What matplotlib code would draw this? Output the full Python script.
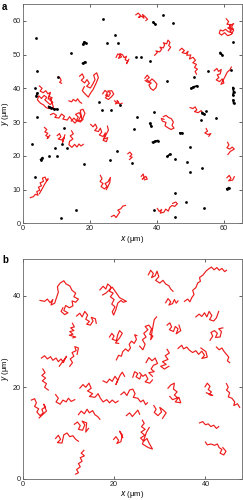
import matplotlib
matplotlib.use("Agg")
import matplotlib.pyplot as plt

# ---------------- data ----------------
# Panel a: red trajectories (x, y in um)
traj_a = [
    [(33.8,61.8),(34.5,62.3),(35.2,61.6),(34.6,61.0),(35.5,61.4),(36.2,60.8),(35.8,61.9),(36.6,61.2),(37.3,60.5),(36.8,60.1)],
    [(60.8,60.6),(61.5,59.8),(61.0,59.0),(62.2,58.9),(61.6,58.0),(62.8,57.6),(61.9,57.0),(62.6,56.4),(61.4,56.8),(60.6,57.5),(59.8,57.0),(59.0,57.3),(58.7,56.3),(59.4,55.8),(60.3,56.5),(61.2,55.6),(62.3,56.0),(63.0,57.2),(62.4,58.3),(63.0,59.2),(61.8,58.6),(62.1,57.4),(61.3,57.9)],
    [(39.4,49.8),(40.2,50.6),(39.8,51.1),(40.9,50.8),(41.5,51.6),(41.0,52.2),(42.0,52.0),(42.4,52.9),(42.0,53.5),(43.0,53.2),(43.4,54.3),(44.0,53.6),(43.6,52.7),(44.2,52.2),(43.5,51.2)],
    [(46.9,51.3),(47.5,51.9),(48.3,51.2),(47.6,50.6),(48.7,50.3),(49.4,51.0),(49.0,49.8),(50.2,49.9),(49.8,48.7),(50.9,49.2),(51.6,48.3),(50.8,47.6),(51.9,47.1),(51.3,46.2),(52.2,45.7),(51.5,45.0),(51.9,44.2)],
    [(57.2,45.2),(58.0,45.9),(58.5,45.0),(59.3,45.6),(59.0,44.3),(58.1,44.0),(58.6,43.2),(57.8,42.5),(58.8,42.0),(59.6,42.8),(60.1,41.6),(59.2,41.2),(60.5,43.6),(61.1,44.8),(61.9,45.5),(62.3,46.3)],
    [(27.9,49.2),(28.4,50.2),(29.1,49.8),(28.6,48.9),(29.5,49.3),(29.0,50.3),(29.8,50.0),(30.3,49.1),(31.0,49.5),(30.6,48.5),(31.4,48.0),(31.0,47.3),(31.7,48.6)],
    [(36.5,43.0),(37.2,43.9),(37.8,43.2),(37.0,42.5),(37.9,42.0),(38.6,42.8),(39.3,42.2),(40.1,41.3),(39.8,40.2),(39.0,39.4),(38.2,40.0),(37.7,41.0),(38.4,41.6),(37.4,41.8),(36.6,42.3)],
    [(17.0,43.6),(17.8,44.3),(18.3,43.2),(17.5,42.4),(18.5,41.6),(19.2,42.6),(19.9,41.5),(19.1,40.6),(20.2,40.1),(20.9,41.2),(21.6,42.6),(21.2,43.9),(22.1,44.6),(22.6,43.2),(22.0,41.7),(21.0,39.6),(20.2,38.5),(19.6,37.4),(18.6,38.4),(17.8,39.3),(18.4,40.5)],
    [(5.0,40.7),(5.8,40.0),(5.2,39.2),(6.1,38.7),(6.9,39.3),(7.5,38.4),(8.3,38.8),(7.9,37.6),(8.8,37.2),(8.1,36.5),(9.0,35.8),(8.2,35.2),(7.4,35.9),(6.6,36.6),(7.2,37.3),(6.4,37.9),(5.6,37.0),(4.8,37.8),(4.4,36.6),(5.3,35.6),(6.2,35.1),(7.0,34.3),(7.8,34.0),(9.2,34.3),(8.4,37.0),(7.6,36.8),(8.0,38.2)],
    [(23.9,38.4),(24.6,39.4),(25.3,38.7),(24.8,37.9),(25.7,37.6),(26.2,38.6),(25.4,39.2),(26.6,39.3),(27.2,38.3),(26.4,37.4),(25.6,36.7),(24.7,37.2),(25.4,38.1)],
    [(27.4,36.3),(28.0,35.9),(27.7,35.4),(28.6,35.7),(28.2,36.4),(29.0,35.3),(29.7,35.6)],
    [(13.8,36.3),(14.6,36.0),(15.1,36.7),(15.9,36.2),(16.4,36.9),(17.0,36.0),(17.6,35.6)],
    [(8.3,32.2),(9.2,32.6),(10.1,32.0),(9.6,31.4),(10.8,31.2),(11.6,32.4),(12.5,31.7),(12.0,30.9),(13.3,30.6),(14.0,31.6),(14.8,30.5),(15.6,29.7),(16.4,30.6),(17.2,30.0),(18.0,30.8)],
    [(14.5,30.3),(15.3,31.2),(16.0,30.4),(16.6,31.5),(15.8,32.3),(16.9,32.8),(17.4,31.8),(16.5,30.2),(17.7,30.6),(17.2,33.5),(18.0,33.8),(18.6,32.6),(17.9,31.0)],
    [(20.3,29.3),(21.0,28.6),(21.7,29.4),(22.2,28.3),(21.5,27.5),(22.6,27.2),(23.2,28.2),(23.6,27.0),(22.9,26.2),(24.0,25.7),(24.7,26.8),(24.3,25.0),(25.4,25.4),(25.0,24.2),(24.0,24.6),(25.6,27.6),(25.3,28.8)],
    [(6.5,28.4),(7.2,27.8),(6.6,27.1),(7.5,26.7),(6.9,26.0),(7.8,25.5),(7.3,25.1),(8.1,26.1)],
    [(10.3,26.0),(11.0,26.6),(11.4,25.6),(10.6,25.0),(11.6,24.7),(12.4,25.4),(11.9,24.0),(12.6,26.2)],
    [(14.6,27.4),(15.1,26.5),(14.2,25.9),(15.0,25.0),(14.0,24.3),(13.8,23.3),(14.7,22.5),(15.5,23.4),(16.2,22.6),(16.8,23.5),(17.4,22.9),(18.1,23.4)],
    [(42.0,31.6),(42.8,32.0),(43.5,31.4),(44.4,31.0),(45.0,30.0),(44.6,29.0),(45.2,28.2),(44.3,27.8),(43.4,28.3),(42.5,28.9),(42.8,29.9),(41.7,30.3),(41.4,31.1),(42.2,30.8)],
    [(50.0,34.3),(50.8,34.0),(51.5,34.5),(52.0,33.6),(51.3,33.1),(52.4,32.8),(53.3,33.4),(53.9,32.5),(54.4,32.2)],
    [(54.8,28.1),(55.2,27.3),(54.4,26.8),(55.3,26.3),(56.2,26.6),(55.6,25.8)],
    [(61.2,24.0),(61.6,23.2),(61.0,22.4),(61.8,22.0),(62.6,22.6),(63.2,22.0),(62.0,21.3),(61.3,20.4)],
    [(61.0,13.5),(61.7,14.2),(62.2,13.3),(61.5,12.6),(62.7,12.8),(63.2,13.8)],
    [(31.4,20.6),(32.0,21.1),(32.6,20.4),(32.0,19.8),(32.7,19.6),(31.9,18.9)],
    [(35.4,13.9),(36.0,14.6),(36.3,13.4),(35.7,13.1),(36.8,13.9),(37.2,13.1),(36.4,12.9)],
    [(23.2,14.2),(23.7,13.2),(23.1,12.4),(24.0,11.8),(23.4,10.9),(24.4,10.2),(25.2,10.9),(24.6,11.8),(25.5,12.3),(26.2,13.6),(26.0,12.0),(25.0,10.0)],
    [(2.3,7.6),(3.2,7.9),(3.8,8.6),(4.6,8.3),(4.2,9.4),(5.1,9.8),(4.7,10.7),(5.6,11.1),(5.2,12.0),(6.2,12.4),(5.9,13.4),(6.7,13.7),(7.1,12.6),(7.6,13.2),(6.5,11.5),(5.8,10.2),(5.0,8.8)],
    [(26.5,2.0),(27.3,2.4),(27.9,1.7),(28.5,2.6),(29.0,3.3),(28.4,3.9),(29.3,4.3),(29.9,5.1),(30.7,5.3)],
    [(40.2,4.4),(40.8,3.5),(41.5,4.1),(41.1,3.0),(42.2,3.3),(42.7,4.2),(43.5,3.6),(43.9,4.7),(44.6,5.3),(45.4,5.0),(46.2,5.8),(45.7,6.3),(44.8,5.9)],
    [(10.6,43.4),(11.2,43.0),(11.5,42.3),(11.0,41.8),(11.6,41.5)],
]

# Panel a: black (immobile) tracks
black_a = [
    [(24.1,60.7)],[(42.0,61.7)],[(44.8,59.4)],[(39.0,59.6),(39.6,59.0)],[(4.0,54.8)],
    [(27.5,55.9)],[(25.3,53.5)],[(28.6,53.5)],[(18.0,53.0),(18.4,53.8),(18.8,53.4)],
    [(14.5,50.5)],[(17.9,47.4),(18.6,47.8)],[(33.8,49.4)],[(35.3,49.4)],[(38.0,48.1)],
    [(59.0,50.6),(59.5,50.0)],[(62.7,53.6)],[(55.3,45.2)],[(62.2,45.4)],[(51.3,43.4)],
    [(43.1,42.3)],[(50.3,40.0),(51.0,40.4),(52.0,40.7)],[(62.8,40.2),(63.0,39.0),(62.8,38.0)],
    [(62.9,36.5),(63.0,35.6)],[(4.2,45.0)],[(10.6,43.5)],[(4.4,38.6),(4.1,37.8)],
    [(3.7,40.0)],[(7.8,34.6),(8.6,34.2),(9.4,33.8),(10.2,33.8)],[(22.8,36.0)],
    [(23.8,33.6)],[(26.3,33.6)],[(29.1,35.0)],[(4.2,31.6)],[(34.1,31.4)],[(39.3,33.1)],
    [(38.0,29.6),(38.4,28.8)],[(33.3,28.0)],[(47.0,26.7),(47.6,26.7)],
    [(38.8,24.0),(39.5,24.3),(40.3,24.5)],[(12.2,28.3)],[(2.7,23.4)],[(11.8,23.5)],
    [(13.3,22.2)],[(9.7,22.2)],[(8.0,19.9)],[(10.2,20.0)],[(5.4,18.9),(5.9,19.4)],
    [(28.3,21.5)],[(26.0,18.8)],[(32.6,17.8)],[(43.2,19.8),(43.9,20.4)],[(45.6,19.1)],
    [(49.1,18.1)],[(50.1,22.6)],[(49.9,15.3)],[(53.6,16.3)],[(61.0,10.2),(61.5,10.5)],
    [(3.7,13.8)],[(45.6,8.9)],[(48.8,6.4)],[(54.1,4.4)],[(45.5,1.9)],[(39.3,3.9)],
    [(16.0,3.8)],[(11.5,1.7)],[(18.2,17.6)],[(57.8,31.1)],[(53.3,30.6)],
    [(53.6,32.8),(54.2,32.4)],[(54.8,33.4)],
]

# Panel b: red trajectories (x, y in um)
traj_b = [
    [(3.8,39.0),(4.8,38.8),(5.4,39.3),(6.0,38.5),(6.6,39.2),(6.2,38.0),(7.0,38.4),(7.4,39.6),(7.8,40.8),(7.6,42.0),(8.2,42.8),(9.0,43.3),(9.5,42.6),(10.3,42.2),(10.8,41.2),(11.6,40.6),(11.2,39.8),(12.2,39.3),(11.6,38.6),(10.8,38.9),(11.0,37.8),(10.2,37.4),(9.4,37.9),(9.0,36.8),(9.9,36.3),(9.2,35.9),(8.4,36.6),(8.8,37.4)],
    [(11.8,35.6),(12.5,36.2),(13.0,35.4),(13.6,36.6),(14.2,35.8),(13.8,34.9),(14.6,34.4),(14.0,33.8),(14.8,33.6),(15.4,34.5),(15.0,35.3),(15.9,35.0),(16.1,34.0)],
    [(10.9,34.0),(11.3,33.2),(10.5,33.0),(11.2,32.4),(10.3,32.2),(11.0,31.6),(10.2,31.4),(11.6,31.0),(11.0,30.8)],
    [(16.9,41.3),(17.6,42.1),(18.2,41.5),(18.6,42.6),(19.3,42.0),(19.0,41.0),(19.8,40.6),(19.2,39.8),(20.0,39.2),(19.5,38.2),(20.2,37.6),(19.6,36.5),(19.9,35.8),(20.4,37.0),(20.8,38.4),(21.5,39.0),(22.0,38.6),(22.7,38.8),(21.2,39.6),(20.6,40.5),(19.6,41.9),(18.2,40.6),(17.5,40.2)],
    [(19.0,31.0),(19.5,31.8),(20.0,31.2),(19.6,30.5),(20.5,30.2),(20.8,31.5),(21.2,32.4),(21.8,31.8),(21.2,30.8),(20.3,29.7),(21.0,29.6)],
    [(20.5,26.0),(21.0,27.0),(21.6,26.8),(21.9,27.8),(22.5,28.4),(23.1,27.9),(23.6,28.6),(23.3,29.4),(23.8,30.1),(24.4,29.6),(24.9,30.5),(24.5,31.5),(25.0,31.3)],
    [(25.6,29.0),(26.3,28.2),(26.8,29.4),(26.2,30.4),(27.0,31.0),(26.5,31.8),(27.4,32.6),(26.8,33.3),(27.6,33.6),(28.2,32.8),(27.8,31.6),(28.5,31.2),(28.0,30.4),(28.6,33.8),(28.8,34.8),(29.3,35.4)],
    [(27.5,44.6),(28.0,45.6),(28.6,44.9),(28.2,44.0),(29.0,44.4),(29.4,45.4),(29.8,44.2),(29.1,43.4),(30.0,42.8),(30.7,43.4),(31.3,42.6),(32.0,42.2),(32.4,41.5),(32.9,41.0)],
    [(31.3,38.5),(31.8,39.4),(32.4,38.7),(32.0,38.0),(32.8,38.3),(33.2,39.2),(33.6,38.4),(34.0,38.9)],
    [(35.4,38.8),(36.1,39.3),(36.6,38.7),(37.0,39.6),(37.5,40.3),(37.2,41.2),(37.9,41.8),(38.3,42.8),(38.9,43.2),(38.7,44.0),(39.5,44.6),(40.1,45.4),(40.7,45.9),(41.3,46.3),(41.9,45.7),(42.5,46.2),(43.0,45.6),(43.6,46.0),(44.2,45.3),(44.6,45.6)],
    [(31.6,33.6),(32.2,34.1),(32.6,33.2),(32.1,32.6),(33.0,32.2),(33.4,33.3),(34.0,32.8),(33.6,31.7),(34.6,32.4),(34.2,33.6)],
    [(37.9,35.4),(38.6,36.0),(39.2,35.5),(39.8,36.3),(40.3,35.4),(40.8,36.6),(41.4,35.7),(40.9,34.8),(41.8,34.5),(42.4,35.2),(42.9,36.6)],
    [(41.0,30.3),(41.6,31.2),(41.2,32.0),(42.0,32.4),(42.6,31.8),(42.2,30.9),(43.2,31.0),(43.5,32.2),(42.9,32.8),(43.8,33.0)],
    [(34.0,28.5),(34.8,29.2),(35.2,28.4),(35.9,28.8),(36.5,28.1),(37.2,27.6),(37.9,28.0),(38.5,27.2),(39.2,27.9),(39.8,27.0),(39.2,26.3),(40.4,26.6),(40.1,27.8),(39.0,28.6)],
    [(42.4,28.8),(43.0,28.2),(43.6,28.6),(44.1,27.8),(44.6,27.2),(45.1,26.6),(44.8,25.8),(45.3,25.4)],
    [(31.6,28.3),(32.1,27.5),(31.2,26.9),(31.8,26.1),(30.6,25.6),(31.4,25.0),(30.2,24.6),(31.0,24.0),(32.0,24.6)],
    [(27.0,25.4),(27.6,26.5),(28.3,25.8),(29.0,26.4),(29.5,25.2),(28.6,24.8),(28.1,24.0),(28.8,23.4),(27.6,23.2),(28.4,22.4)],
    [(25.6,23.2),(26.3,22.4),(26.9,22.8),(27.4,21.8),(26.8,21.2),(27.8,20.9),(28.4,21.6)],
    [(24.1,22.2),(24.5,23.4),(25.2,23.0),(24.8,22.3),(25.6,21.8),(25.9,22.6)],
    [(17.6,21.4),(18.4,21.0),(19.0,21.8),(19.6,21.3),(20.2,22.4),(20.8,21.6),(20.4,20.6),(21.3,22.6),(21.8,23.3),(22.3,22.4)],
    [(31.8,19.8),(32.4,20.5),(33.2,20.9),(33.0,19.6),(33.8,19.0),(33.2,18.3),(34.0,17.6),(33.4,16.8),(34.6,16.6),(34.2,17.8),(32.8,17.3),(32.2,18.0)],
    [(39.9,20.1),(40.4,20.9),(41.0,20.2),(40.6,19.5),(41.3,19.0),(40.8,18.4),(41.6,18.2),(40.2,18.8)],
    [(44.6,20.8),(45.0,20.0),(44.6,19.4),(45.3,18.8),(45.0,17.9),(45.8,17.6),(46.4,16.8),(46.2,16.0),(47.0,16.4),(47.5,15.6)],
    [(21.5,18.4),(22.2,19.0),(22.8,18.2),(23.4,19.4),(24.1,19.6),(24.6,18.6),(24.2,17.8),(25.2,17.6),(25.8,16.8),(26.4,17.2),(26.9,16.2),(27.3,16.6)],
    [(28.7,16.0),(29.2,15.2),(28.8,14.5),(29.6,13.8),(30.4,14.6),(30.0,15.6),(30.8,15.0),(31.4,14.4),(30.6,13.2)],
    [(22.7,13.8),(23.4,14.4),(24.0,13.6),(24.6,14.3),(25.2,15.0),(25.6,14.1)],
    [(26.2,12.8),(26.6,12.1),(26.0,11.4),(26.8,10.8),(25.9,10.2),(26.7,9.5),(25.8,8.9),(26.5,8.2),(27.2,8.8),(27.6,7.9),(28.0,7.2),(28.4,6.5),(27.5,6.8),(26.2,7.6),(27.1,10.2),(27.7,11.2)],
    [(19.9,8.6),(20.4,9.2),(21.0,8.4),(20.6,7.7),(21.5,8.1),(21.8,9.6),(21.2,10.4),(21.9,9.0)],
    [(12.2,14.0),(12.8,14.8),(13.5,14.2),(14.1,15.2),(14.6,14.4),(15.3,14.9),(15.8,14.0),(16.4,13.6),(16.9,13.0)],
    [(11.3,11.9),(12.0,12.4),(12.6,11.6),(12.2,10.8),(13.1,10.6),(13.6,11.8),(13.0,12.6),(14.0,12.2),(13.8,10.2),(14.4,11.0)],
    [(12.5,19.8),(13.2,20.6),(13.8,20.0),(14.5,20.9),(15.0,19.8),(14.2,19.2),(15.3,18.6),(14.6,18.0),(15.8,17.8),(16.5,18.6),(17.0,17.6),(17.6,16.8),(18.4,17.3),(19.0,16.6),(19.6,17.2),(20.3,16.6),(20.9,17.0)],
    [(7.2,18.4),(7.8,17.6),(7.3,16.8),(8.2,16.3),(8.8,17.2),(9.5,16.8),(10.0,17.6),(10.6,16.9),(11.4,17.3)],
    [(1.9,17.2),(2.6,17.5),(3.0,16.6),(2.6,15.8),(3.5,15.3),(3.1,14.6),(3.8,13.8),(4.5,14.4),(4.2,15.2),(5.0,15.7),(4.6,16.3),(5.2,14.8),(3.6,13.3)],
    [(4.4,24.0),(4.9,23.2),(4.2,22.6),(5.0,22.0),(4.3,21.4),(5.2,20.8),(4.8,20.0),(5.6,19.4)],
    [(4.1,26.4),(4.8,26.9),(5.4,26.2),(6.1,26.7),(6.6,25.9),(7.3,26.4),(7.8,25.6),(8.4,26.2),(8.9,25.4),(9.6,26.8),(8.0,24.6)],
    [(10.3,24.6),(10.9,25.4),(10.4,26.2),(11.2,26.8),(10.8,27.6),(11.7,28.0),(11.4,28.9),(12.2,28.6),(11.9,27.2)],
    [(7.2,8.8),(7.8,9.5),(8.3,8.6),(7.6,7.9),(8.6,7.8),(9.0,9.6),(9.7,10.0),(10.3,9.2),(11.0,9.4),(11.6,8.6),(12.2,8.2)],
    [(13.4,6.2),(12.8,5.6),(13.5,5.0),(12.6,4.6),(13.0,3.8),(12.2,3.3),(12.6,2.6),(11.8,2.0),(12.2,1.3),(11.6,1.0)],
    [(38.7,12.2),(39.4,12.5),(40.0,11.8),(40.6,12.0),(41.2,11.4),(41.8,11.7),(42.4,11.0),(42.9,11.4)],
    [(40.0,8.0),(40.4,7.4),(41.2,7.6),(42.0,7.3),(42.6,7.6),(43.0,6.8),(43.6,6.4),(43.2,5.6),(44.0,5.2),(44.5,6.0),(43.8,6.8)],
]

xticks_a = [0, 20, 40, 60]
yticks_a = [0, 10, 20, 30, 40, 50, 60]
xticks_b = [0, 20, 40]
yticks_b = [0, 20, 40]

# ---------------- figure ----------------
plt.rcParams['font.family'] = ['Liberation Sans', 'DejaVu Sans']
RED = '#ee1c1c'
fig = plt.figure(figsize=(2.43, 5.0), dpi=100)
ax_a = fig.add_axes([0.0934, 0.5534, 0.9025, 0.4386])
ax_b = fig.add_axes([0.0934, 0.0426, 0.9025, 0.4388])


def style(ax, xt, yt, xlim, ylim):
    ax.set_xlim(*xlim)
    ax.set_ylim(*ylim)
    ax.set_xticks(xt)
    ax.set_yticks(yt)
    ax.tick_params(direction='in', length=2, width=0.5, labelsize=5.2,
                   top=True, right=True, pad=1.5, colors='#222222')
    for s in ax.spines.values():
        s.set_linewidth(0.6)
        s.set_color('#666666')
    ax.set_xlabel(r'$x$ (μm)', fontsize=5.5, labelpad=1)
    ax.set_ylabel(r'$y$ (μm)', fontsize=5.5, labelpad=1)


for tr in traj_a:
    xs, ys = zip(*tr)
    ax_a.plot(xs, ys, color=RED, lw=0.85)
for tr in black_a:
    xs, ys = zip(*tr)
    ax_a.plot(xs, ys, color='black', lw=1.3, marker='o', ms=2.0, mew=0)
style(ax_a, xticks_a, yticks_a, (0, 65.5), (0, 65))

for tr in traj_b:
    xs, ys = zip(*tr)
    ax_b.plot(xs, ys, color=RED, lw=0.85)
style(ax_b, xticks_b, yticks_b, (0, 48), (0, 48))

fig.text(0.008, 0.997, 'a', fontsize=7, fontweight='bold', va='top', ha='left')
fig.text(0.008, 0.49, 'b', fontsize=7, fontweight='bold', va='top', ha='left')

fig.savefig('out.png', dpi=100)
